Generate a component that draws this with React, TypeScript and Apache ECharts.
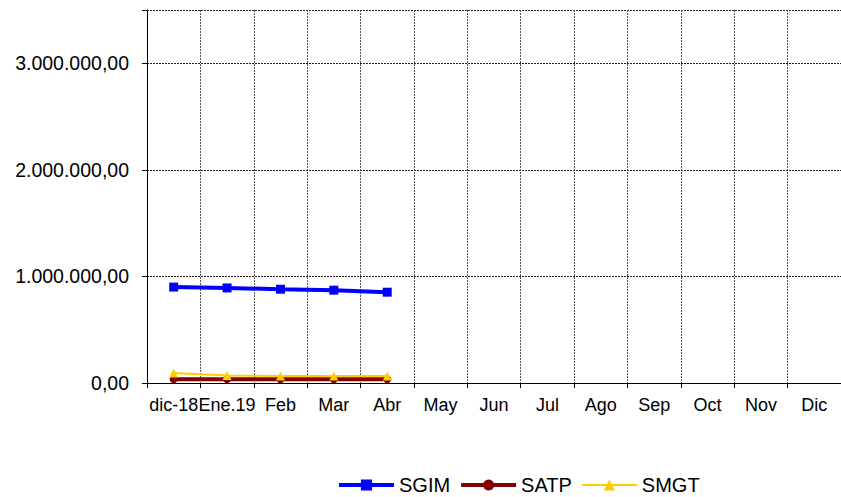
import React, { useEffect, useRef } from "react";
import * as echarts from "echarts";

const categories = ["dic-18", "Ene.19", "Feb", "Mar", "Abr", "May", "Jun", "Jul", "Ago", "Sep", "Oct", "Nov", "Dic"];
const sgim = [900000, 892000, 880000, 871000, 852000];
const satp = [36000, 36000, 36000, 36000, 36000];
const smgt = [94000, 70000, 66000, 66000, 66000];
const yTicks = [0, 1000000, 2000000, 3000000];

function fmt(v: number): string {
  const s = Math.round(v).toString().replace(/\B(?=(\d{3})+(?!\d))/g, ".");
  return s + ",00";
}

export default function App() {
  const ref = useRef<HTMLDivElement>(null);
  useEffect(() => {
    if (!ref.current) return;
    const chart = echarts.init(ref.current, null, { renderer: "svg" });
    const font = "'Liberation Sans', Arial, sans-serif";
    chart.setOption({
      animation: false,
      backgroundColor: "#ffffff",
      textStyle: { fontFamily: font },
      grid: { left: 147, top: 10, width: 702, height: 373, containLabel: false },
      legend: {
        left: 332,
        top: 470,
        itemWidth: 55,
        itemHeight: 14,
        itemGap: 9,
        textStyle: { fontSize: 20, color: "#000", fontFamily: font },
        data: [
          { name: "SGIM", lineStyle: { width: 4 } },
          { name: "SATP", lineStyle: { width: 4 } },
          { name: "SMGT", lineStyle: { width: 2 } },
        ],
      },
      xAxis: {
        type: "category",
        data: categories,
        boundaryGap: true,
        axisLine: { lineStyle: { color: "#000", width: 1 } },
        axisTick: { show: true, alignWithLabel: false, length: 5, lineStyle: { color: "#000" } },
        axisLabel: { color: "#000", fontSize: 18, margin: 13, interval: 0, fontFamily: font },
        splitLine: { show: true, lineStyle: { color: "#555", type: [2, 1], width: 1 } },
      },
      yAxis: {
        type: "value",
        min: 0,
        max: 3500000,
        interval: 1000000,
        axisLine: { show: true, lineStyle: { color: "#000", width: 1 } },
        axisTick: { show: true, length: 5, lineStyle: { color: "#000" } },
        axisLabel: {
          color: "#000",
          fontSize: 19.5,
          margin: 18,
          fontFamily: font,
          formatter: (v: number) => (yTicks.indexOf(v) >= 0 ? fmt(v) : ""),
        },
        splitLine: { show: true, lineStyle: { color: "#222", type: [2, 1], width: 1 } },
      },
      series: [
        {
          name: "SGIM",
          type: "line",
          data: sgim,
          color: "#0000ff",
          lineStyle: { width: 4, color: "#0000ff" },
          symbol: "rect",
          symbolSize: 9,
          itemStyle: { color: "#0000ff" },
          z: 3,
        },
        {
          name: "SATP",
          type: "line",
          data: satp,
          color: "#800000",
          lineStyle: { width: 4, color: "#800000" },
          symbol: "circle",
          symbolSize: 8,
          itemStyle: { color: "#800000" },
          z: 2,
        },
        {
          name: "SMGT",
          type: "line",
          data: smgt,
          color: "#ffcc00",
          lineStyle: { width: 2, color: "#ffcc00" },
          symbol: "triangle",
          symbolSize: 9,
          itemStyle: { color: "#ffcc00" },
          z: 4,
        },
      ],
    });
    return () => chart.dispose();
  }, []);
  return <div ref={ref} style={{ width: 841, height: 497, position: "absolute", left: 0, top: 0 }} />;
}
